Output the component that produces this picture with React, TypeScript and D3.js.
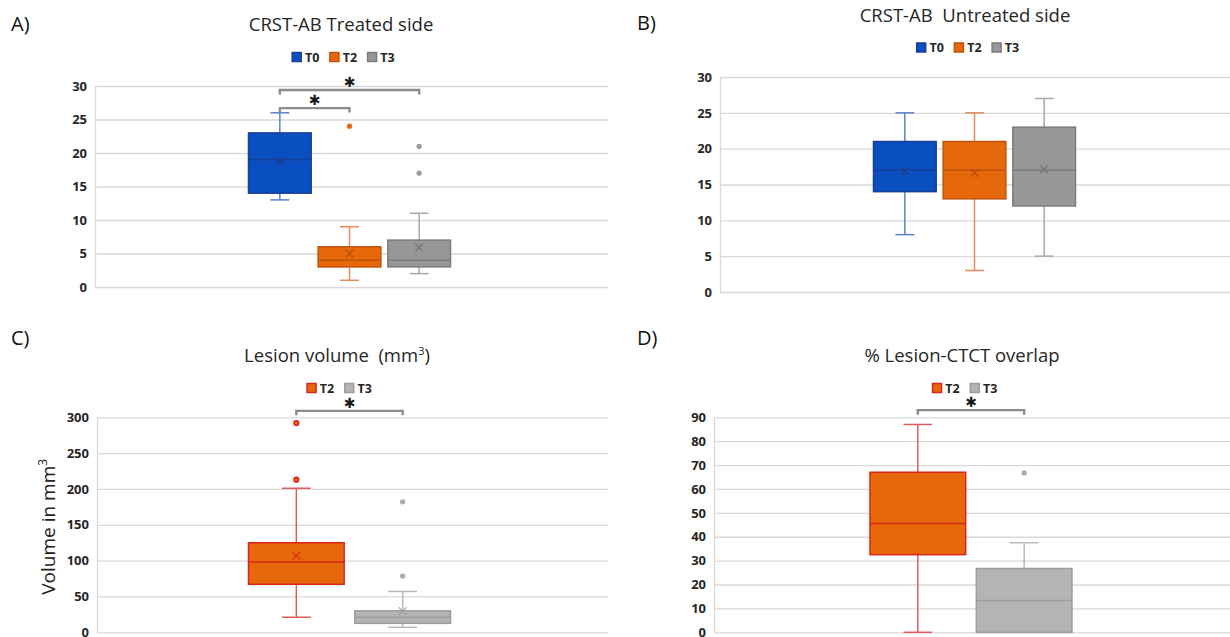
import React, { useRef, useEffect } from 'react';
import * as d3 from 'd3';

// timepoints shown in each pair of panels
const timepointsAB = ['T0', 'T2', 'T3'];
const timepointsCD = ['T2', 'T3'];

// box stats (min, q1, median, q3, max, mean, outliers)
const treatedStats = [
  { min: 13, q1: 14, median: 19, q3: 23, max: 26, mean: 18.8, outliers: [] },
  { min: 1, q1: 3, median: 4, q3: 6, max: 9, mean: 5, outliers: [24] },
  { min: 2, q1: 3, median: 4, q3: 7, max: 11, mean: 5.9, outliers: [21, 17] },
];
const untreatedStats = [
  { min: 8, q1: 14, median: 17, q3: 21, max: 25, mean: 16.9, outliers: [] },
  { min: 3, q1: 13, median: 17, q3: 21, max: 25, mean: 16.6, outliers: [] },
  { min: 5, q1: 12, median: 17, q3: 23, max: 27, mean: 17.1, outliers: [] },
];
const volumeStats = [
  { min: 21, q1: 67, median: 98, q3: 125, max: 201, mean: 107, outliers: [292, 213] },
  { min: 7, q1: 12.5, median: 21, q3: 30, max: 57, mean: 29.5, outliers: [182, 78.5] },
];
const overlapStats = [
  { min: 0, q1: 32.5, median: 45.5, q3: 67, max: 87, mean: null, outliers: [] },
  { min: 0, q1: 0, median: 13.3, q3: 26.7, max: 37.5, mean: null, outliers: [66.7] },
];

// significance brackets (between two timepoints, at a value on the y scale)
const treatedBrackets = [
  { from: 'T0', to: 'T2', y: 26.7, label: '✱' },
  { from: 'T0', to: 'T3', y: 29.4, label: '✱' },
];
const volumeBrackets = [{ from: 'T2', to: 'T3', y: 309, label: '✱' }];
const overlapBrackets = [{ from: 'T2', to: 'T3', y: 93, label: '✱' }];

const FONT = "'Open Sans', 'DejaVu Sans', sans-serif";

const abStyles = {
  T0: { fill: '#0a4fc2', stroke: '#1b3f94', whisker: '#5d80cc', mean: '#1d3a7a', dot: '#0a4fc2', dotStroke: 'none' },
  T2: { fill: '#e6680a', stroke: '#c0520c', whisker: '#e68a5c', mean: '#b44a08', dot: '#e6680a', dotStroke: 'none' },
  T3: { fill: '#979797', stroke: '#7c7c7c', whisker: '#a8a8a8', mean: '#707070', dot: '#999999', dotStroke: 'none' },
};
const cdStyles = {
  T2: { fill: '#e6680a', stroke: '#d8261c', whisker: '#df5d5d', mean: '#d8261c', dot: '#e6680a', dotStroke: '#e01c16' },
  T3: { fill: '#b4b4b4', stroke: '#9d9d9d', whisker: '#b9b9b9', mean: '#9a9a9a', dot: '#ababab', dotStroke: 'none' },
};

const panels = [
  {
    label: 'A)', labelX: 11, labelY: 31,
    title: ['CRST-AB Treated side'], titleX: 341, titleY: 31,
    series: timepointsAB, stats: treatedStats, styles: abStyles, brackets: treatedBrackets,
    legendX: 343.5, legendY: 57,
    left: 95, right: 608, top: 86, bottom: 287, center: 349.5,
    domain: [0, 30], step: 5,
  },
  {
    label: 'B)', labelX: 637, labelY: 30,
    title: ['CRST-AB  Untreated side'], titleX: 965, titleY: 22,
    series: timepointsAB, stats: untreatedStats, styles: abStyles, brackets: [],
    legendX: 968, legendY: 47.5,
    left: 720, right: 1230, top: 77, bottom: 292, center: 974.5,
    domain: [0, 30], step: 5,
  },
  {
    label: 'C)', labelX: 11, labelY: 345,
    title: ['Lesion volume  (mm', '3', ')'], titleX: 337, titleY: 362,
    series: timepointsCD, stats: volumeStats, styles: cdStyles, brackets: volumeBrackets,
    legendX: 339.5, legendY: 388,
    left: 97, right: 608, top: 417.3, bottom: 632.3, center: 349.5,
    domain: [0, 300], step: 50,
    yTitle: true,
  },
  {
    label: 'D)', labelX: 637, labelY: 345,
    title: ['% Lesion-CTCT overlap'], titleX: 962, titleY: 362,
    series: timepointsCD, stats: overlapStats, styles: cdStyles, brackets: overlapBrackets,
    legendX: 965, legendY: 388,
    left: 714, right: 1230, top: 417.3, bottom: 632.3, center: 971,
    domain: [0, 90], step: 10,
  },
];

const groupWidth = 202;

function drawPanel(svg, p) {
  const g = svg.append('g');

  const y = d3.scaleLinear().domain(p.domain).range([p.bottom, p.top]);
  const x = d3.scaleBand()
    .domain(p.series)
    .range([p.center - groupWidth / 2, p.center + groupWidth / 2])
    .paddingInner(0.1);
  const bw = x.bandwidth();

  // gridlines + tick labels
  const axis = d3.axisLeft(y)
    .tickValues(d3.range(p.domain[0], p.domain[1] + 1e-9, p.step))
    .tickSize(-(p.right - p.left))
    .tickSizeOuter(0)
    .tickPadding(8);
  const ax = g.append('g').attr('transform', `translate(${p.left},0)`).call(axis);
  ax.select('.domain').attr('stroke', '#d9d9d9').attr('stroke-width', 1.3);
  ax.selectAll('.tick line').attr('stroke', '#d9d9d9').attr('stroke-width', 1.3);
  ax.selectAll('.tick text')
    .attr('font-family', FONT)
    .attr('font-size', 13)
    .attr('font-weight', 'bold')
    .attr('fill', '#262626');

  // boxes
  p.series.forEach((s, i) => {
    const d = p.stats[i];
    const st = p.styles[s];
    const cx = x(s) + bw / 2;
    const cap = bw * 0.3;
    const box = g.append('g');

    box.append('line')
      .attr('x1', cx).attr('x2', cx)
      .attr('y1', y(d.q3)).attr('y2', y(d.max))
      .attr('stroke', st.whisker).attr('stroke-width', 1.5);
    box.append('line')
      .attr('x1', cx).attr('x2', cx)
      .attr('y1', y(d.q1)).attr('y2', y(d.min))
      .attr('stroke', st.whisker).attr('stroke-width', 1.5);
    [d.max, d.min].forEach(v => {
      box.append('line')
        .attr('x1', cx - cap / 2).attr('x2', cx + cap / 2)
        .attr('y1', y(v)).attr('y2', y(v))
        .attr('stroke', st.whisker).attr('stroke-width', 1.5);
    });

    box.append('rect')
      .attr('x', x(s))
      .attr('y', y(d.q3))
      .attr('width', bw)
      .attr('height', y(d.q1) - y(d.q3))
      .attr('fill', st.fill)
      .attr('stroke', st.stroke)
      .attr('stroke-width', 1.5);
    box.append('line')
      .attr('x1', x(s)).attr('x2', x(s) + bw)
      .attr('y1', y(d.median)).attr('y2', y(d.median))
      .attr('stroke', st.stroke).attr('stroke-width', 1.5);

    if (d.mean != null) {
      const h = 3.8;
      const my = y(d.mean);
      box.append('path')
        .attr('d', `M${cx - h},${my - h}L${cx + h},${my + h}M${cx - h},${my + h}L${cx + h},${my - h}`)
        .attr('stroke', st.mean).attr('stroke-width', 1.1).attr('fill', 'none');
    }

    box.selectAll('circle')
      .data(d.outliers)
      .enter()
      .append('circle')
      .attr('cx', cx)
      .attr('cy', v => y(v))
      .attr('r', st.dotStroke === 'none' ? 2.6 : 2.4)
      .attr('fill', st.dot)
      .attr('stroke', st.dotStroke)
      .attr('stroke-width', 1.4);
  });

  // significance brackets
  p.brackets.forEach(b => {
    const x1 = x(b.from) + bw / 2;
    const x2 = x(b.to) + bw / 2;
    const by = y(b.y);
    g.append('path')
      .attr('d', `M${x1},${by + 4.5}L${x1},${by}L${x2},${by}L${x2},${by + 4.5}`)
      .attr('fill', 'none')
      .attr('stroke', '#8c8c8c')
      .attr('stroke-width', 2.4);
    g.append('text')
      .attr('x', (x1 + x2) / 2)
      .attr('y', by - 8)
      .attr('text-anchor', 'middle')
      .attr('dominant-baseline', 'central')
      .attr('font-family', "'DejaVu Sans', sans-serif")
      .attr('font-size', 14)
      .attr('fill', '#1a1a1a')
      .text(b.label);
  });

  // legend
  const itemStep = 37.7;
  const legendW = p.series.length * itemStep - 9;
  const lx0 = p.legendX - legendW / 2;
  p.series.forEach((s, i) => {
    const st = p.styles[s];
    const lx = lx0 + i * itemStep;
    g.append('rect')
      .attr('x', lx + 0.75)
      .attr('y', p.legendY - 4.5)
      .attr('width', 9)
      .attr('height', 9)
      .attr('fill', st.fill)
      .attr('stroke', st.stroke)
      .attr('stroke-width', 1.5);
    g.append('text')
      .attr('x', lx + 13.5)
      .attr('y', p.legendY)
      .attr('dominant-baseline', 'central')
      .attr('font-family', FONT)
      .attr('font-size', 12.5)
      .attr('font-weight', 'bold')
      .attr('fill', '#262626')
      .text(s);
  });

  // title
  const t = g.append('text')
    .attr('x', p.titleX)
    .attr('y', p.titleY)
    .attr('text-anchor', 'middle')
    .attr('font-family', FONT)
    .attr('font-size', 18.5)
    .attr('fill', '#262626')
    .style('white-space', 'pre');
  t.append('tspan').text(p.title[0]);
  if (p.title.length > 1) {
    t.append('tspan').attr('font-size', 11).attr('dy', -7).text(p.title[1]);
    t.append('tspan').attr('dy', 7).text(p.title[2]);
  }

  // panel letter
  g.append('text')
    .attr('x', p.labelX)
    .attr('y', p.labelY)
    .attr('font-family', FONT)
    .attr('font-size', 20)
    .attr('fill', '#111111')
    .text(p.label);

  if (p.yTitle) {
    const yt = g.append('text')
      .attr('transform', `translate(55,${(p.top + p.bottom) / 2 + 2}) rotate(-90)`)
      .attr('text-anchor', 'middle')
      .attr('font-family', FONT)
      .attr('font-size', 19)
      .attr('fill', '#222222');
    yt.append('tspan').text('Volume in mm');
    yt.append('tspan').attr('font-size', 12).attr('dy', -8).text('3');
  }
}

const App = () => {
  const svgRef = useRef(null);

  useEffect(() => {
    const svg = d3.select(svgRef.current);
    svg.selectAll('*').remove();
    svg.append('rect').attr('width', 1230).attr('height', 637).attr('fill', '#ffffff');
    panels.forEach(p => drawPanel(svg, p));
  }, []);

  return (
    <svg
      ref={svgRef}
      width={1230}
      height={637}
      style={{ position: 'absolute', left: 0, top: 0, display: 'block' }}
    />
  );
};

export default App;
